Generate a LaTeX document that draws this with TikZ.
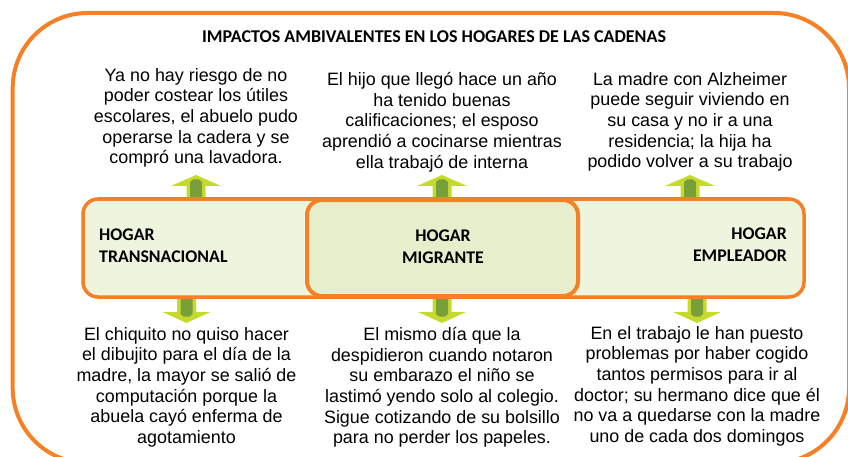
\documentclass[tikz,border=0pt]{standalone}
\usepackage{fontspec}
\setmainfont{Liberation Sans}
\newfontfamily\titlefont{Carlito}

\definecolor{naranja}{RGB}{245,128,37}
\definecolor{barra}{RGB}{239,244,222}
\definecolor{medio}{RGB}{229,239,203}
\definecolor{lima}{RGB}{198,218,46}
\definecolor{verde}{RGB}{119,160,58}

\begin{document}
\begin{tikzpicture}[x=1pt, y=-1pt,
    caja/.style={draw=naranja, line width=3.5pt, rounded corners=15pt},
    texto/.style={align=center, inner sep=0pt, anchor=north, font=\fontsize{17.9}{20.7}\selectfont},
    etiqueta/.style={inner sep=0pt, font=\titlefont\bfseries\fontsize{17.8}{22}\selectfont}]
    \useasboundingbox (0,0) rectangle (848,457);
    \draw[naranja, line width=4pt, rounded corners=75pt] (12.7,13) rectangle (849,463);

    \node[font=\titlefont\bfseries\fontsize{18}{20}\selectfont] (titulo) at (434,37) {IMPACTOS AMBIVALENTES EN LOS HOGARES DE LAS CADENAS};

    % flechas hacia arriba y hacia abajo
    \foreach \cx in {196,442,690} {
        \fill[lima] (\cx-9.5,200) -- (\cx-9.5,186) -- (\cx-25,186) -- (\cx,175) -- (\cx+25,186) -- (\cx+9.5,186) -- (\cx+9.5,200) -- cycle;
        \fill[verde] (\cx-6,200) -- (\cx-6,182) -- (\cx-3,179.5) -- (\cx+3,179.5) -- (\cx+6,182) -- (\cx+6,200) -- cycle;
    }
    \foreach \cx in {186.5,442,697} {
        \fill[lima] (\cx-9.5,296) -- (\cx-9.5,312) -- (\cx-24,312) -- (\cx,323) -- (\cx+24,312) -- (\cx+9.5,312) -- (\cx+9.5,296) -- cycle;
        \fill[verde] (\cx-6,296) -- (\cx-6,314) -- (\cx-3,316.5) -- (\cx+3,316.5) -- (\cx+6,314) -- (\cx+6,296) -- cycle;
    }

    \draw[caja, fill=barra] (83,199) rectangle (804,297);
    \draw[caja, fill=medio, line width=4pt] (307,200) rectangle (578,296);

    \node[etiqueta, anchor=west, align=left] (transnacional) at (99,246) {HOGAR\\TRANSNACIONAL};
    \node[etiqueta, align=center] (migrante) at (443,247) {HOGAR\\MIGRANTE};
    \node[etiqueta, anchor=east, align=right] (empleador) at (787,245) {HOGAR\\EMPLEADOR};

    \node[texto] (arribaT) at (196,68) {Ya no hay riesgo de no\\poder costear los útiles\\escolares, el abuelo pudo\\operarse la cadera y se\\compró una lavadora.};
    \node[texto] (arribaM) at (442,72) {El hijo que llegó hace un año\\ha tenido buenas\\calificaciones; el esposo\\aprendió a cocinarse mientras\\ella trabajó de interna};
    \node[texto] (arribaE) at (690,72) {La madre con Alzheimer\\puede seguir viviendo en\\su casa y no ir a una\\residencia; la hija ha\\podido volver a su trabajo};

    \node[texto] (abajoT) at (186.5,327) {El chiquito no quiso hacer\\el dibujito para el día de la\\madre, la mayor se salió de\\computación porque la\\abuela cayó enferma de\\agotamiento};
    \node[texto] (abajoM) at (442,327) {El mismo día que la\\despidieron cuando notaron\\su embarazo el niño se\\lastimó yendo solo al colegio.\\Sigue cotizando de su bolsillo\\para no perder los papeles.};
    \node[texto] (abajoE) at (697,326) {En el trabajo le han puesto\\problemas por haber cogido\\tantos permisos para ir al\\doctor; su hermano dice que él\\no va a quedarse con la madre\\uno de cada dos domingos};
\end{tikzpicture}
\end{document}
